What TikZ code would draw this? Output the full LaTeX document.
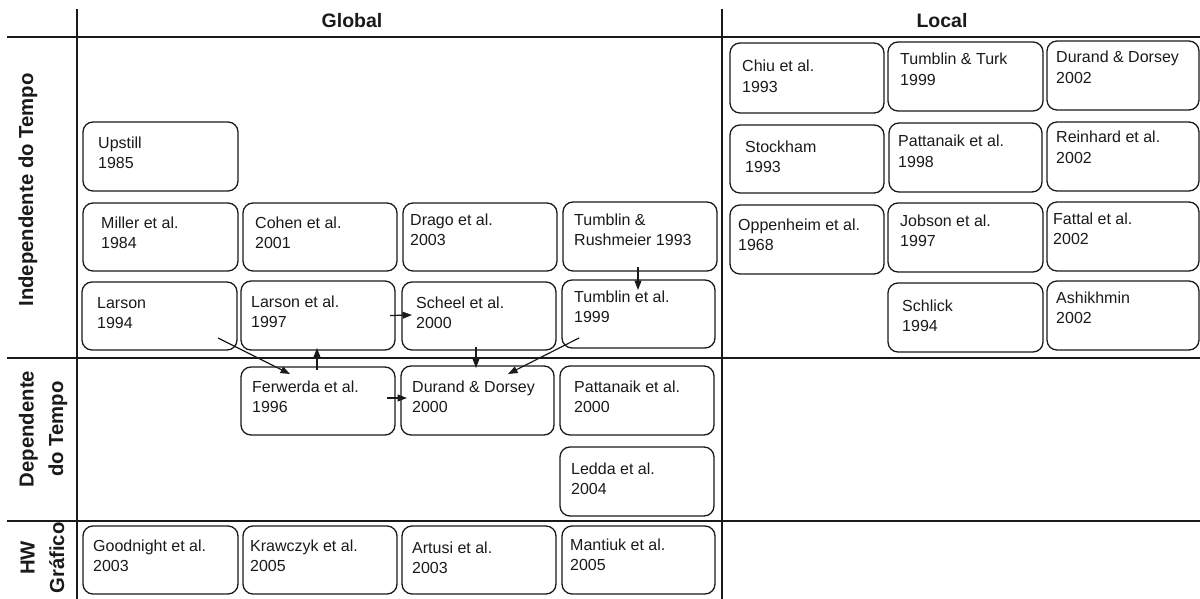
\documentclass[tikz,border=0pt]{standalone}
\usepackage{fontspec}
\setmainfont{Liberation Sans}
\usetikzlibrary{arrows.meta}
\definecolor{ink}{HTML}{1A1A1A}
\newcommand\pbox[9]{%
  \node[pbox, minimum width=#4pt, minimum height=#5pt, anchor=north west] (#1) at (#2,#3) {};
  \node[ptext] (#1t) at ([shift={({#6},{#7+20.5})}]#1.north west) {#8\\#9};}
\begin{document}
\begin{tikzpicture}[x=1pt,y=-1pt,
  pbox/.style={draw=ink, line width=1.3pt, rounded corners=10pt, inner sep=0pt, outer sep=0pt},
  ptext/.style={anchor=base west, align=left, inner sep=0pt, text=ink, font=\fontsize{16}{20.5}\selectfont},
  hdr/.style={anchor=base, inner sep=0pt, text=ink, font=\fontsize{19.5}{30}\selectfont\bfseries},
  side/.style={anchor=base, rotate=90, align=center, inner sep=0pt, text=ink, font=\fontsize{20.3}{29.5}\selectfont\bfseries},
  grid/.style={draw=ink, line width=1.3pt},
  arr/.style={draw=ink, line width=1.2pt, -{Triangle[length=9.5pt,width=7pt]}}]
\useasboundingbox (0,0) rectangle (1200,599);
% grid
\draw[grid] (77,9) -- (77,599);
\draw[grid] (722,9) -- (722,599);
\draw[grid] (7,37) -- (1200,37);
\draw[grid] (7,358) -- (1200,358);
\draw[grid] (7,521) -- (1200,521);
% headers
\node[hdr] (hglobal) at (352,28) {Global};
\node[hdr] (hlocal) at (942,28) {Local};
\node[side] (sindep) at (33,190) {Independente do Tempo};
\node[side] (sdep) at (63,429) {Dependente\\do Tempo};
\node[side] (shw) at (64,558) {HW\\Gráfico};
% global boxes
\pbox{up}{83}{122}{155}{69}{15}{26}{Upstill}{1985}
\pbox{mil}{83}{203}{155}{68}{18}{25}{Miller et al.}{1984}
\pbox{coh}{243}{203}{154}{68}{12}{25}{Cohen et al.}{2001}
\pbox{dra}{403}{203}{154}{68}{7}{22}{Drago et al.}{2003}
\pbox{trm}{563}{202}{154}{69}{11}{23}{Tumblin \&}{Rushmeier 1993}
\pbox{lar}{82}{282}{155}{68}{15}{26}{Larson}{1994}
\pbox{lae}{241}{281}{154}{69}{10}{26}{Larson et al.}{1997}
\pbox{sch}{402}{282}{154}{68}{14}{26}{Scheel et al.}{2000}
\pbox{tea}{562}{280}{153}{68}{12}{22}{Tumblin et al.}{1999}
\pbox{fer}{241}{367}{154}{68}{11}{25}{Ferwerda et al.}{1996}
\pbox{ddz}{401}{366}{153}{69}{11}{26}{Durand \& Dorsey}{2000}
\pbox{patz}{560}{366}{154}{69}{14}{26}{Pattanaik et al.}{2000}
\pbox{led}{560}{447}{154}{69}{11}{27}{Ledda et al.}{2004}
\pbox{goo}{83}{526}{155}{68}{10}{25}{Goodnight et al.}{2003}
\pbox{kra}{243}{526}{154}{68}{7}{25}{Krawczyk et al.}{2005}
\pbox{art}{402}{526}{154}{68}{10}{27}{Artusi et al.}{2003}
\pbox{man}{562}{526}{153}{68}{8}{24}{Mantiuk et al.}{2005}
% local boxes
\pbox{chi}{730}{43}{154}{70}{12}{29}{Chiu et al.}{1993}
\pbox{ttk}{888}{42}{155}{69}{12}{23}{Tumblin \& Turk}{1999}
\pbox{ddt}{1047}{41}{152}{69}{9}{22}{Durand \& Dorsey}{2002}
\pbox{sto}{730}{125}{154}{68}{15}{27}{Stockham}{1993}
\pbox{pate}{889}{123}{153}{69}{9}{24}{Pattanaik et al.}{1998}
\pbox{rei}{1047}{122}{152}{69}{9}{21}{Reinhard et al.}{2002}
\pbox{opp}{730}{205}{154}{69}{8}{25}{Oppenheim et al.}{1968}
\pbox{job}{888}{203}{155}{69}{12}{23}{Jobson et al.}{1997}
\pbox{fat}{1047}{202}{152}{69}{6}{22}{Fattal et al.}{2002}
\pbox{sli}{888}{283}{155}{69}{14}{28}{Schlick}{1994}
\pbox{ash}{1047}{281}{152}{69}{9}{22}{Ashikhmin}{2002}
% arrows
\draw[arr] ([shift={(-19,-12)}]lar.south east) -- ([shift={(49,7)}]fer.north west);
\draw[arr] ([shift={(76,3)}]fer.north west) -- ([shift={(76,-2)}]lae.south west);
\draw[arr] ([shift={(-5,0)}]lae.east) -- ([shift={(10,-1)}]sch.west);
\draw[arr] ([shift={(74,-3)}]sch.south west) -- ([shift={(75,2)}]ddz.north west);
\draw[arr] ([shift={(17,-10)}]tea.south west) -- ([shift={(107,8)}]ddz.north west);
\draw[arr] ([shift={(75,-4)}]trm.south west) -- ([shift={(76,10)}]tea.north west);
\draw[arr] ([shift={(-8,-3)}]fer.east) -- ([shift={(6,-2.5)}]ddz.west);
\end{tikzpicture}
\end{document}
